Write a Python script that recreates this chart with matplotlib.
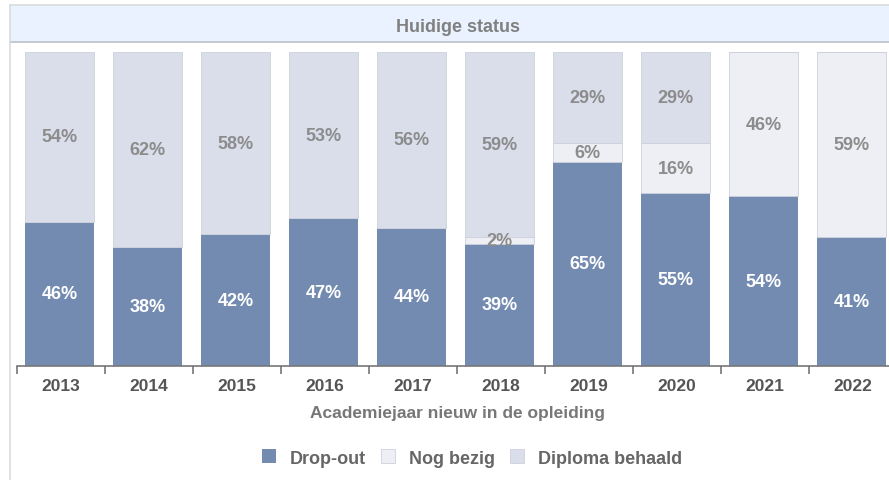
import matplotlib.pyplot as plt
from matplotlib.patches import Rectangle
from matplotlib.lines import Line2D
import numpy as np

plt.rcParams['font.family'] = ['Liberation Sans', 'DejaVu Sans']

years = ['2013', '2014', '2015', '2016', '2017', '2018', '2019', '2020', '2021', '2022']
drop_out = [46, 38, 42, 47, 44, 39, 65, 55, 54, 41]
nog_bezig = [0, 0, 0, 0, 0, 2, 6, 16, 46, 59]
diploma = [54, 62, 58, 53, 56, 59, 29, 29, 0, 0]

series = [
    ('Drop-out', drop_out, '#738bb1', 'white'),
    ('Nog bezig', nog_bezig, '#eeeff4', '#8c8c8c'),
    ('Diploma behaald', diploma, '#dadeeb', '#8c8c8c'),
]

fig = plt.figure(figsize=(8.89, 4.81), dpi=100)
W, H = 889, 481

# header band with the title
fig.patches.append(Rectangle((10 / W, 1 - 43 / H), 1, 37 / H, transform=fig.transFigure,
                             facecolor='#eaf2ff', edgecolor='none', zorder=0))
fig.lines.append(Line2D([10 / W, 1], [1 - 6 / H, 1 - 6 / H], transform=fig.transFigure,
                        color='#dcdcdc', lw=1.2))
fig.lines.append(Line2D([10 / W, 1], [1 - 43 / H, 1 - 43 / H], transform=fig.transFigure,
                        color='#bcc0c8', lw=1.2))
fig.lines.append(Line2D([10 / W, 10 / W], [0, 1 - 6 / H], transform=fig.transFigure,
                        color='#dcdcdc', lw=1.2))
fig.text(458 / W, 1 - 27 / H, 'Huidige status', ha='center', va='center',
         fontsize=13, fontweight='bold', color='#808080')

ax = fig.add_axes([17 / W, 1 - 367 / H, 880 / W, 314 / H])
x = np.arange(len(years))
bottom = np.zeros(len(years))
for name, vals, color, txt_color in series:
    vals = np.array(vals, dtype=float)
    ec = 'none' if name == 'Drop-out' else '#cdd1dd'
    ax.bar(x - 0.015, vals, bottom=bottom, width=0.78, color=color, edgecolor=ec,
           linewidth=0.6, label=name)
    for xi, b, v in zip(x, bottom, vals):
        if v > 0:
            ax.text(xi - 0.015, b + v / 2, f'{int(v)}%', ha='center', va='center',
                    fontsize=13, fontweight='bold', color=txt_color)
    bottom += vals

ax.set_xlim(-0.5, len(years) - 0.5)
ax.set_ylim(0, 100)
ax.set_yticks([])
for side in ['top', 'right', 'left']:
    ax.spines[side].set_visible(False)
ax.spines['bottom'].set_color('#777777')
ax.spines['bottom'].set_linewidth(1.2)

ax.set_xticks(x)
ax.set_xticklabels(years, fontsize=12.5, fontweight='bold', color='#555555')
ax.tick_params(axis='x', length=0, pad=9)
ax.set_xticks(np.arange(len(years) + 1) - 0.5, minor=True)
ax.tick_params(axis='x', which='minor', length=6, width=1.2, color='#777777')

ax.set_xlabel('Academiejaar nieuw in de opleiding', fontsize=12.5, fontweight='bold',
              color='#777777', labelpad=8)

handles, labels = ax.get_legend_handles_labels()
leg = fig.legend(handles, labels, loc='center', bbox_to_anchor=(472 / W, 1 - 459 / H),
                 ncol=3, frameon=False, handlelength=0.78, handleheight=0.78,
                 handletextpad=0.75, columnspacing=0.85,
                 prop={'size': 13, 'weight': 'bold'})
for t in leg.get_texts():
    t.set_color('#666666')

fig.savefig('out.png', dpi=100)
